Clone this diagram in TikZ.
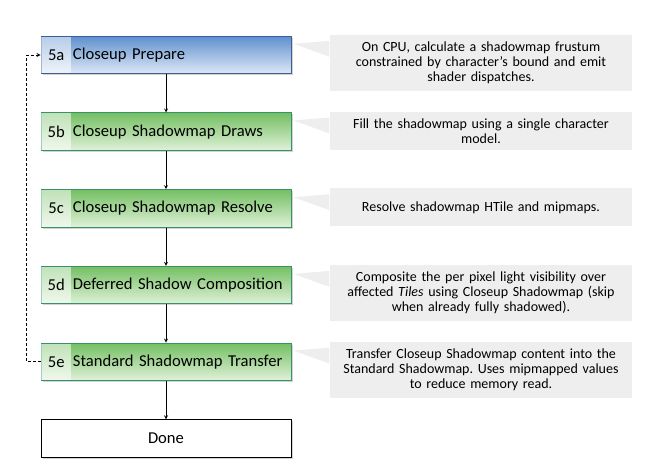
\documentclass[tikz,border=0pt]{standalone}
\usepackage{fontspec}
\setmainfont{Carlito}
\usepackage{xcolor}
\usepackage{tikz}
\usetikzlibrary{arrows, positioning, shadows}
\frenchspacing

\definecolor{stepblue}{HTML}{5F90CE}
\definecolor{stepbluelight}{HTML}{DFE8F5}
\definecolor{stepblueline}{HTML}{3B5F96}
\definecolor{stepgreen}{HTML}{74BF63}
\definecolor{stepgreenlight}{HTML}{E0F1D8}
\definecolor{stepgreenline}{HTML}{36926A}
\definecolor{notegray}{HTML}{EEEEEE}

\begin{document}
\begin{tikzpicture}[
    node distance=38.3pt,
    basebox/.style={rectangle, draw, line width=0.9pt, minimum width=250pt, minimum height=37.5pt, text width=250pt, inner xsep=0pt, font=\fontsize{16.6}{18}\selectfont, drop shadow={opacity=0.35, shadow xshift=1.5pt, shadow yshift=-1.5pt}},
    stepbox/.style={basebox, align=left, execute at begin node={\hspace*{32pt}}},
    bluestep/.style={stepbox, draw=stepblueline, top color=stepblue, bottom color=stepbluelight},
    greenstep/.style={stepbox, draw=stepgreenline, top color=stepgreen, bottom color=stepgreenlight},
    tag/.style={rectangle, fill=white, fill opacity=0.55, text opacity=1, minimum width=30pt, minimum height=36.6pt, inner sep=0pt, anchor=west, font=\fontsize{16.6}{18}\selectfont},
    note/.style={rectangle, fill=notegray, text width=296pt, minimum width=300pt, minimum height=38pt, align=center, inner ysep=7pt, font=\fontsize{14}{15}\selectfont, anchor=north west},
    wedge/.style={fill=notegray},
    flow/.style={-stealth, line width=0.8pt},
    loopback/.style={-stealth, line width=0.8pt, dash pattern=on 3pt off 2pt}
]
\useasboundingbox (0,0) rectangle (670pt,-468pt);

% steps
\node[bluestep] (s5a) at (166pt,-55pt) {Closeup Prepare};
\node[greenstep, below=of s5a] (s5b) {Closeup Shadowmap Draws};
\node[greenstep, below=of s5b] (s5c) {Closeup Shadowmap Resolve};
\node[greenstep, below=of s5c] (s5d) {Deferred Shadow Composition};
\node[greenstep, below=of s5d] (s5e) {Standard Shadowmap Transfer};
\node[basebox, below=of s5e, fill=white, draw=black, align=center] (done) {Done};

\node[tag] at ([xshift=0.45pt]s5a.west) {5a};
\node[tag] at ([xshift=0.45pt]s5b.west) {5b};
\node[tag] at ([xshift=0.45pt]s5c.west) {5c};
\node[tag] at ([xshift=0.45pt]s5d.west) {5d};
\node[tag] at ([xshift=0.45pt]s5e.west) {5e};

% notes
\node[note] (n5a) at ([xshift=38pt,yshift=1pt]s5a.north east) {On CPU, calculate a shadowmap frustum\\constrained by character’s bound and emit\\shader dispatches.};
\node[note, inner ysep=5pt] (n5b) at ([xshift=38pt,yshift=1pt]s5b.north east) {Fill the shadowmap using a single character\\model.};
\node[note] (n5c) at ([xshift=38pt,yshift=1pt]s5c.north east) {Resolve shadowmap HTile and mipmaps.};
\node[note] (n5d) at ([xshift=38pt,yshift=1pt]s5d.north east) {Composite the per pixel light visibility over\\affected \textit{Tiles} using Closeup Shadowmap (skip\\when already fully shadowed).};
\node[note] (n5e) at ([xshift=38pt,yshift=1pt]s5e.north east) {Transfer Closeup Shadowmap content into the\\Standard Shadowmap. Uses mipmapped values\\to reduce memory read.};

\foreach \s in {5a,5b,5c,5d,5e}
    \fill[wedge] ([shift={(2pt,-8pt)}]s\s.north east) -- ([yshift=-6pt]n\s.north west) -- ([yshift=-22pt]n\s.north west) -- cycle;

% connectors
\draw[flow] (s5a) -- (s5b);
\draw[flow] (s5b) -- (s5c);
\draw[flow] (s5c) -- (s5d);
\draw[flow] (s5d) -- (s5e);
\draw[flow] (s5e) -- (done);
\draw[loopback] (s5e.west) -- ++(-14pt,0) |- (s5a.west);

\end{tikzpicture}
\end{document}
